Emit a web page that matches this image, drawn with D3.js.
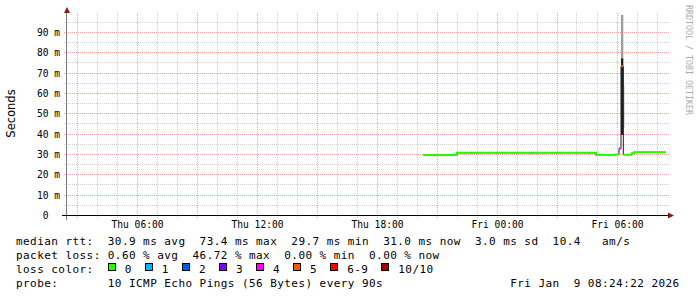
<!DOCTYPE html>
<html><head><meta charset="utf-8">
<script src="https://cdn.jsdelivr.net/npm/d3@7"></script>
<style>
html,body{margin:0;padding:0;background:#fff;}
svg{display:block;}
text{white-space:pre;}
</style></head><body>
<svg id="chart" width="697" height="297"></svg>
<script>
// ---------- data ----------
const sampleTimes = ["2026-01-08T20:18","2026-01-08T21:43","2026-01-08T21:46","2026-01-08T22:00",
  "2026-01-08T22:42","2026-01-08T22:45","2026-01-09T01:43","2026-01-09T01:46","2026-01-09T04:36",
  "2026-01-09T04:39","2026-01-09T04:57","2026-01-09T05:54","2026-01-09T06:06","2026-01-09T06:12",
  "2026-01-09T06:19","2026-01-09T06:44","2026-01-09T06:51"];
const medianMs  = [29.7,29.7,29.7,30.8,30.8,30.8,30.8,30.8,30.8,30.8,29.7,30.0,33.0,73.4,29.9,30.6,31.1];
const lostPings = [0,1,0,0,1,0,1,0,1,0,0,0,4,5,0,0,0];
const dataEnd = "2026-01-09T08:26";

const smokeStart = ["2026-01-09T06:12","2026-01-09T06:12","2026-01-09T06:19"];
const smokeEnd   = ["2026-01-09T06:19","2026-01-09T06:19","2026-01-09T06:22"];
const smokeLow   = [77.3, 39.6, 43.0];
const smokeHigh  = [98.6, 77.3, 64.0];
const smokeDepth = [0, 1, 0];

const lossLabels = ["0","1","2","3","4","5","6-9","10/10"];
const lossColors = ["#26ff00","#00b8ff","#0059ff","#7e00ff","#ff00ff","#ff5500","#ff0000","#a10000"];
const smokeShades = ["#9e9e9e","#1e1e1e"];

const yMajorTicks = [0,10,20,30,40,50,60,70,80,90];
const yMinorTicks = [5,15,25,35,45,55,65,75,85,95];
const timeStart = "2026-01-08T02:30", timeEnd = "2026-01-09T08:30";

const legendLines = [
  "median rtt:  30.9 ms avg  73.4 ms max  29.7 ms min  31.0 ms now  3.0 ms sd  10.4   am/s",
  "packet loss: 0.60 % avg  46.72 % max  0.00 % min  0.00 % now",
  "loss color:",
  "probe:       10 ICMP Echo Pings (56 Bytes) every 90s"
];
const stampText = "Fri Jan  9 08:24:22 2026";

// ---------- setup ----------
const svg = d3.select("#chart");
const parse = s => new Date(s);
const x = d3.scaleTime().domain([parse(timeStart), parse(timeEnd)]).range([67, 667]);
const y = d3.scaleLinear().domain([0, 98.6]).range([215.5, 15]);
const px = v => Math.round(v - 0.5) + 0.5;

svg.append("rect").attr("width",697).attr("height",297).attr("fill","#fff");

// grid
const g = svg.append("g");
const hours = d3.timeHour.every(1).range(parse(timeStart), parse(timeEnd));
hours.forEach(h => {
  const major = h.getHours() % 3 === 0;
  g.append("line").attr("x1", px(x(h))).attr("x2", px(x(h))).attr("y1", 13).attr("y2", 218)
    .attr("stroke", major ? "#eba3a3" : "#cfcfcf").attr("stroke-dasharray","1,1");
});
yMinorTicks.forEach(v => {
  g.append("line").attr("x1", 64).attr("x2", 669).attr("y1", px(y(v))).attr("y2", px(y(v)))
    .attr("stroke", "#cfcfcf").attr("stroke-dasharray","1,1");
});
yMajorTicks.filter(v => v > 0).forEach(v => {
  g.append("line").attr("x1", 64).attr("x2", 669).attr("y1", px(y(v))).attr("y2", px(y(v)))
    .attr("stroke", "#eba3a3").attr("stroke-dasharray","1,1");
});

// smoke
smokeStart.forEach((s, i) => {
  svg.append("rect")
    .attr("x", x(parse(s))).attr("width", x(parse(smokeEnd[i])) - x(parse(s)))
    .attr("y", y(smokeHigh[i])).attr("height", y(smokeLow[i]) - y(smokeHigh[i]))
    .attr("fill", smokeShades[smokeDepth[i]]);
});

// samples
const samples = sampleTimes.map((t, i) => ({t: parse(t), v: medianMs[i], l: lostPings[i]}));
const cls = l => l <= 5 ? l : (l < 10 ? 6 : 7);
const line = d3.line().x(d => x(d.t)).y(d => y(d.v)).curve(d3.curveStepAfter);

const full = samples.concat([{t: parse(dataEnd), v: samples[samples.length-1].v}]);
svg.append("path").attr("d", line(full)).attr("fill","none").attr("stroke","#202020").attr("stroke-width",1);

let i = 0;
while (i < samples.length) {
  const c = cls(samples[i].l);
  let j = i;
  while (j + 1 < samples.length && cls(samples[j+1].l) === c) j++;
  const nextT = j + 1 < samples.length ? samples[j+1].t : parse(dataEnd);
  const pts = samples.slice(i, j+1).concat([{t: nextT, v: samples[j].v}]);
  svg.append("path").attr("d", line(pts)).attr("fill","none")
    .attr("stroke", lossColors[c]).attr("stroke-width", 2).attr("stroke-linecap","butt");
  i = j + 1;
}

// axes
svg.append("line").attr("x1",66.5).attr("x2",66.5).attr("y1",12).attr("y2",220).attr("stroke","#7a7a7a");
svg.append("line").attr("x1",62).attr("x2",669).attr("y1",215.5).attr("y2",215.5).attr("stroke","#000");
svg.append("path").attr("d","M64,13L70,13L67,7Z").attr("fill","#8b1a1a");
svg.append("path").attr("d","M668,212.5L668,218.5L674,215.5Z").attr("fill","#8b1a1a");

const xAxis = d3.axisBottom(x).ticks(d3.timeHour.every(6)).tickFormat(d3.timeFormat("%a %H:%M")).tickSize(0);
const xa = svg.append("g").attr("transform","translate(0,215.5)").call(xAxis);
xa.select(".domain").remove();
xa.selectAll("text").attr("y", 12).attr("dy", null)
  .attr("font-family","DejaVu Sans Mono").attr("font-size","9.6px").attr("fill","#000");

const yAxis = d3.axisLeft(y).tickValues(yMajorTicks).tickFormat(d => d === 0 ? "0  " : d + " m").tickSize(0);
const ya = svg.append("g").attr("transform","translate(67,0)").call(yAxis);
ya.select(".domain").remove();
ya.selectAll("text").attr("x", -7).attr("dy","0.32em").attr("xml:space","preserve")
  .attr("font-family","DejaVu Sans Mono").attr("font-size","9.6px").attr("fill","#000");

// titles
svg.append("text").attr("transform","translate(15,113.5) rotate(-90)").attr("text-anchor","middle")
  .attr("font-family","DejaVu Sans").attr("font-size","11.5px").attr("fill","#000").text("Seconds");
svg.append("text").attr("transform","translate(686,5) rotate(90)")
  .attr("font-family","DejaVu Sans Mono").attr("font-size","8.3px").attr("fill","#ababab")
  .text("RRDTOOL / TOBI OETIKER");

// legend
const CW = 7.06, FS = 11, LS = CW - 0.602 * FS, X0 = 16;
const baselines = [245, 259, 273, 287];
legendLines.forEach((s, k) => {
  svg.append("text").attr("x", X0).attr("y", baselines[k]).attr("xml:space","preserve")
    .attr("font-family","DejaVu Sans Mono").attr("font-size", FS + "px").attr("letter-spacing", LS)
    .attr("fill","#000").text(s);
});
svg.append("text").attr("x", X0 + 70 * CW).attr("y", baselines[3]).attr("xml:space","preserve")
  .attr("font-family","DejaVu Sans Mono").attr("font-size", FS + "px").attr("letter-spacing", LS)
  .attr("fill","#000").text(stampText);

let bx = X0 + 13 * CW;
lossLabels.forEach((lab, k) => {
  svg.append("rect").attr("x", Math.round(bx) + 0.5).attr("y", 263.5).attr("width", 7).attr("height", 7)
    .attr("fill", lossColors[k]).attr("stroke", "#000").attr("stroke-width", 1);
  const tx = bx + 17;
  svg.append("text").attr("x", tx).attr("y", baselines[2])
    .attr("font-family","DejaVu Sans Mono").attr("font-size", FS + "px").attr("letter-spacing", LS)
    .attr("fill","#000").text(lab);
  bx = tx + lab.length * CW + 13;
});
</script>
</body></html>
